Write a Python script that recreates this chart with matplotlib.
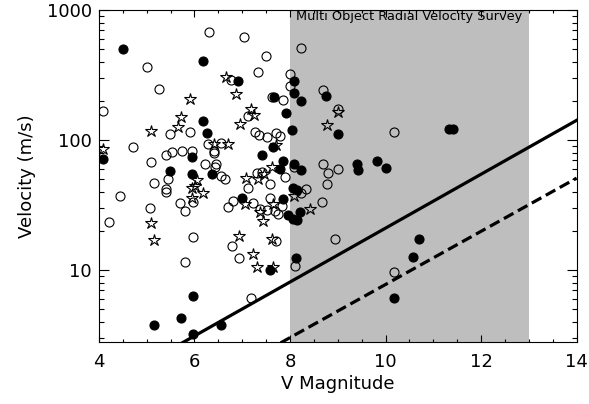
import matplotlib
matplotlib.use('Agg')
import matplotlib.pyplot as plt
from matplotlib.ticker import FixedLocator, NullFormatter, MultipleLocator

# filled circles
filled_mag = [4.50, 6.17, 6.92, 8.08, 7.67, 8.08, 8.22, 7.91, 6.18, 6.26, 8.05, 7.65, 7.41, 4.09, 5.95,
              7.86, 8.09, 5.49, 5.95, 6.37, 7.78, 8.75, 9.01, 11.32, 11.42, 8.24, 9.41, 9.43, 9.82, 10.01,
              7.00, 7.85, 8.06, 8.15, 8.21, 7.95, 8.06, 8.14, 7.58, 8.12, 5.96, 5.71, 5.16, 6.55, 5.96,
              10.69, 10.57, 10.18]
filled_vel = [500, 407, 283, 286, 215, 229, 200, 163, 140, 113, 119, 89, 77, 71, 74,
              69, 65, 58, 55, 55, 60, 218, 111, 122, 121, 59, 65, 59, 69, 61,
              35.8, 35, 43, 41, 27.9, 26.5, 24.9, 24.5, 10.0, 12.5, 6.3, 4.3, 3.8, 3.8, 3.2,
              17.5, 12.6, 6.05]

# open circles
open_mag = [6.30, 7.04, 5.01, 7.49, 7.32, 7.99, 7.99, 6.77, 5.26, 7.62, 7.86, 4.09, 7.11, 5.91, 5.48,
            7.26, 7.36, 7.51, 7.70, 7.80, 4.71, 6.29, 6.41, 6.41, 6.55, 5.09, 5.40, 5.52, 5.74, 5.95,
            6.21, 6.45, 6.43, 6.55, 6.63, 7.30, 7.41, 8.09, 5.16, 5.45, 5.40, 5.40, 4.44, 5.07, 5.70,
            5.81, 5.96, 6.71, 6.81, 7.11, 7.23, 7.58, 7.58, 7.52, 7.69, 7.75, 7.83, 7.90, 4.22, 5.96,
            6.79, 6.93, 7.70, 5.80, 7.18, 8.10, 8.22, 8.70, 9.01, 10.18, 8.70, 8.80, 9.01, 8.77, 8.34,
            8.24, 8.66, 8.94, 10.18, 7.37]
open_vel = [674, 617, 362, 443, 335, 321, 262, 290, 248, 214, 202, 168, 154, 116, 111,
            116, 109, 106, 114, 107, 88, 93, 83, 79, 95, 68, 77, 81, 82, 82,
            66, 66, 62, 53, 50, 56, 57, 62, 47, 50, 42, 40, 37, 30, 33,
            28.6, 33.7, 30.7, 34, 43, 33, 46, 36, 28.8, 28.5, 27.2, 31.3, 52, 23.5, 17.9,
            15.4, 12.5, 16.8, 11.6, 6.1, 10.8, 513, 245, 175, 115, 65, 56, 60, 46, 42,
            39.5, 33.5, 17.5, 9.7, 29.3]

# open stars
star_mag = [6.66, 6.86, 5.91, 7.18, 7.25, 5.71, 5.66, 6.95, 5.10, 6.41, 6.70, 7.70, 4.09, 7.62, 7.46,
            7.07, 6.06, 5.95, 6.18, 5.94, 7.34, 7.06, 7.65, 7.37, 7.44, 5.10, 5.16, 6.93, 7.62, 7.22,
            7.30, 7.64, 8.08, 9.01, 8.77, 8.42, 6.01]
star_vel = [307, 225, 208, 175, 156, 150, 127, 133, 118, 94, 93, 91, 85, 62, 55,
            51, 49, 42.5, 39, 36, 50, 32, 32, 27.9, 24, 22.9, 17.0, 18.3, 17.2, 13.2,
            10.6, 10.5, 37, 165, 130, 29.4, 44]

# detection limit lines
line_mag = [4, 14]
solid_vel = [1.2, 142]
dashed_vel = [0.46, 51]

survey_range = [8, 13]

fig = plt.figure(figsize=(5.89, 4.04), dpi=100)
ax = fig.add_axes([0.168, 0.1535, 0.811, 0.8215])

ax.axvspan(survey_range[0], survey_range[1], color='#bebebe', lw=0, zorder=0)

ax.plot(open_mag, open_vel, 'o', ms=6.5, mfc='none', mec='black', mew=0.8, zorder=3)
ax.plot(filled_mag, filled_vel, 'o', ms=6.5, mfc='black', mec='black', mew=0.8, zorder=3)
ax.plot(star_mag, star_vel, '*', ms=9, mfc='none', mec='black', mew=0.8, zorder=3)

ax.plot(line_mag, solid_vel, color='black', lw=2.3, zorder=4)
ax.plot(line_mag, dashed_vel, color='black', lw=2.3, dashes=[3.4, 1.6], zorder=4)

ax.text((survey_range[0] + survey_range[1]) / 2, 900, 'Multi Object Radial Velocity Survey',
        ha='center', va='center', fontsize=9.3)

ax.set_yscale('log')
ax.set_xlim(4, 14)
ax.set_ylim(2.8, 1000)

ax.set_xticks([4, 6, 8, 10, 12, 14])
ax.xaxis.set_minor_locator(MultipleLocator(0.5))
ax.yaxis.set_major_locator(FixedLocator([10, 100, 1000]))
ax.set_yticklabels(['10', '100', '1000'])
ax.yaxis.set_minor_locator(FixedLocator([m * d for d in [1, 10, 100] for m in range(2, 10)]))
ax.yaxis.set_minor_formatter(NullFormatter())

ax.tick_params(axis='both', which='both', direction='in', top=True, right=True, width=0.8, labelsize=13)
ax.tick_params(axis='x', which='major', length=4.8, pad=8)
ax.tick_params(axis='x', which='minor', length=2.4)
ax.tick_params(axis='y', which='major', length=6.9, pad=5)
ax.tick_params(axis='y', which='minor', length=3.5)
for s in ax.spines.values():
    s.set_linewidth(0.8)

ax.set_xlabel('V Magnitude', fontsize=13, labelpad=3)
ax.set_ylabel('Velocity (m/s)', fontsize=13, labelpad=8)

fig.savefig('out.png', dpi=100)
